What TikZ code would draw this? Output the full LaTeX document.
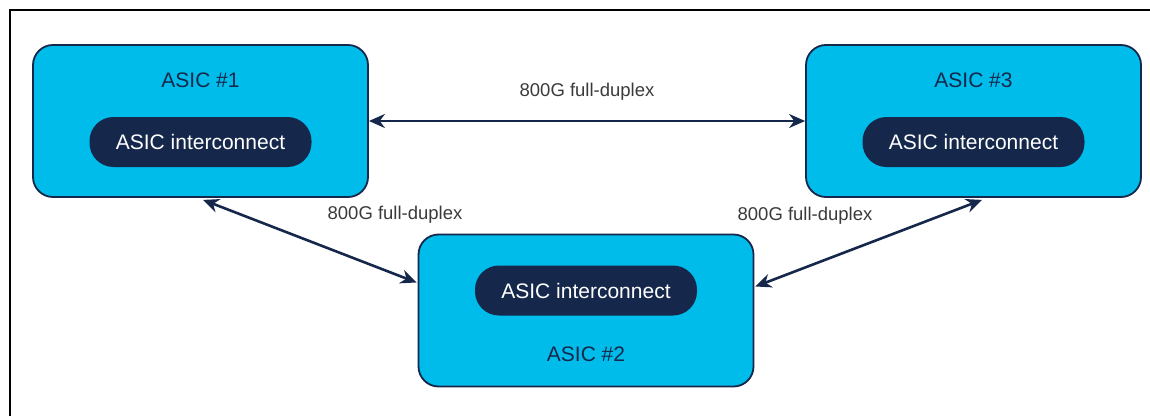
\documentclass[tikz,border=0pt]{standalone}
\usepackage{fontspec}
\setmainfont{Liberation Sans}
\usepackage{tikz}
\usetikzlibrary{positioning,arrows.meta}

\definecolor{asicblue}{HTML}{00BCEB}
\definecolor{navy}{HTML}{15284B}
\definecolor{lblgray}{HTML}{3A3A3A}

\begin{document}
\begin{tikzpicture}[%
			x=1pt, y=1pt,
			align = center,
			asic/.style={%
				minimum width=335pt,
				minimum height=152pt,
				rounded corners=20pt,
				fill=asicblue,
				draw=navy,
				line width=1.8pt
			},
			pill/.style={%
				minimum width=222pt,
				minimum height=50pt,
				rounded corners=24pt,
				fill=navy,
				text=white,
				font=\fontsize{21}{25}\selectfont
			},
			title/.style={%
				text=navy,
				font=\fontsize{21}{25}\selectfont
			},
			lbl/.style={%
				text=lblgray,
				font=\fontsize{18.5}{22}\selectfont
			},
			link/.style={%
				draw=navy,
				line width=2.6pt,
				{Stealth[length=16pt,width=14pt]}-{Stealth[length=16pt,width=14pt]}
			}
			]
			\useasboundingbox (0,0) rectangle (1150,416);
			% frame
			\draw[line width=2.2pt] (10,0) -- (10,406) -- (1150,406);

			\node[asic] (1) at (200.5,295) {};
			\node[asic] (3) at (973.5,295) {};
			\node[asic] (2) at (586,105.5) {};

			\node[title] (1t) at ([yshift=41pt]1.center) {ASIC \#1};
			\node[pill] (1i) at ([yshift=-21pt]1.center) {ASIC interconnect};
			\node[title] (3t) at ([yshift=41pt]3.center) {ASIC \#3};
			\node[pill] (3i) at ([yshift=-21pt]3.center) {ASIC interconnect};
			\node[pill] (2i) at ([yshift=20pt]2.center) {ASIC interconnect};
			\node[title] (2t) at ([yshift=-43.5pt]2.center) {ASIC \#2};

			\node[lbl] (l13) at (587,324) {800G full-duplex};
			\node[lbl] (l12) at (395,201) {800G full-duplex};
			\node[lbl] (l32) at (805,200) {800G full-duplex};

			\draw[link] (1.east) -- (3.west);
			\draw[link] ([xshift=2.5pt,yshift=-2pt]1.south) -- ([xshift=-1pt,yshift=28pt]2.west);
			\draw[link] ([xshift=8.5pt,yshift=-2pt]3.south) -- ([xshift=1pt,yshift=24pt]2.east);
			\end{tikzpicture}
\end{document}
